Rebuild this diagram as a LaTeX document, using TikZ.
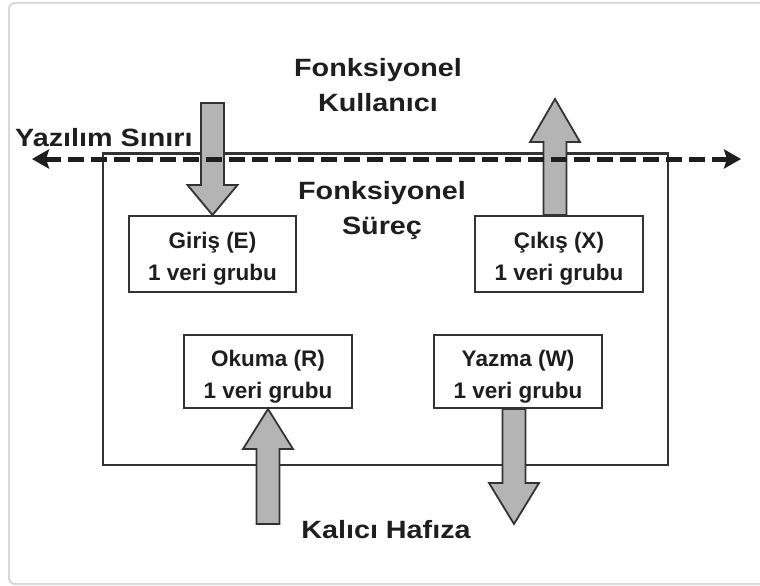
\documentclass[tikz,border=0pt]{standalone}
\usepackage{fontspec}
\setmainfont{Liberation Sans}
\newfontfamily\lblfont{Liberation Sans}[FakeStretch=1.15]
\usetikzlibrary{arrows.meta,calc}
\definecolor{ink}{HTML}{1E1E1E}
\definecolor{edgec}{HTML}{333333}
\definecolor{arrowfill}{HTML}{B4B4B4}
\definecolor{framegray}{HTML}{D9D9D9}
\newcommand{\blkarrow}[3]{%
  \draw[blk] let \p1=(#1), \p2=(#2), \n1={sign(\y2-\y1)} in
    ({\x2-11.5pt},\y1) -- ({\x2-11.5pt},{\y2-\n1*#3}) -- ({\x2-25pt},{\y2-\n1*#3})
    -- (\x2,\y2) -- ({\x2+25pt},{\y2-\n1*#3}) -- ({\x2+11.5pt},{\y2-\n1*#3})
    -- ({\x2+11.5pt},\y1) -- cycle;}
\begin{document}
\begin{tikzpicture}[x=1pt,y=-1pt,
  lbl/.style={font=\lblfont\bfseries\fontsize{25}{35}\selectfont, text=ink, align=center, inner sep=0pt},
  boxt/.style={font=\bfseries\fontsize{22.5}{32}\selectfont, text=ink, align=center, inner sep=0pt},
  opbox/.style={draw=edgec, line width=2pt, fill=white, inner sep=0pt},
  blk/.style={draw=edgec, fill=arrowfill, line width=1.8pt, line join=miter},
  boundary/.style={draw=ink, line width=5pt, dash pattern=on 16pt off 7pt,
    {Stealth[length=17pt,width=19pt,inset=3pt]}-{Stealth[length=17pt,width=19pt,inset=3pt]}},
  framebox/.style={draw=framegray, line width=2pt, rounded corners=6pt}]
\useasboundingbox (0,0) rectangle (760,586);
\fill[white] (0,0) rectangle (760,586);
% outer frame
\draw[framebox] (775,3) -- (9,3) -- (9,584) -- (775,584);
% functional process boundary
\node[draw=edgec, line width=2.5pt, minimum width=565pt, minimum height=311.5pt, inner sep=0pt] (fp) at (385.5,309.25) {};
% operation boxes
\node[opbox, minimum width=167pt, minimum height=76pt] (giris) at (212.5,254) {};
\node[opbox, minimum width=168pt, minimum height=76pt] (cikis) at (559,254) {};
\node[opbox, minimum width=168pt, minimum height=73pt] (okuma) at (268,371.5) {};
\node[opbox, minimum width=168.5pt, minimum height=73pt] (yazma) at (518,371.5) {};
\node[boxt] (girisT) at ([yshift=-5pt]giris.center) {Giriş (E)\\1 veri grubu};
\node[boxt] (cikisT) at ([yshift=-5pt]cikis.center) {Çıkış (X)\\1 veri grubu};
\node[boxt] (okumaT) at ([yshift=-5pt]okuma.center) {Okuma (R)\\1 veri grubu};
\node[boxt] (yazmaT) at ([yshift=-5pt]yazma.center) {Yazma (W)\\1 veri grubu};
% end points outside the process
\coordinate (userIn) at (211,103);
\coordinate (userOut) at (555,99);
\coordinate (storeIn) at (265,524);
\coordinate (storeOut) at (514,524);
% data movements
\blkarrow{userIn}{giris.north}{30pt}
\blkarrow{cikis.north}{userOut}{43pt}
\blkarrow{storeIn}{okuma.south}{40pt}
\blkarrow{yazma.south}{storeOut}{41pt}
% software boundary
\coordinate (bl) at (32,159);
\coordinate (br) at (741,159);
\draw[boundary] (bl) -- (br);
% labels
\node[lbl] (fu) at (378,85.5) {Fonksiyonel\\Kullanıcı};
\node[lbl] (fpL) at (382,211) {Fonksiyonel\\Süreç};
\node[lbl, anchor=base west] (ys) at (15,146) {Yazılım Sınırı};
\node[lbl, anchor=base] (kh) at (386,538) {Kalıcı Hafıza};
\end{tikzpicture}
\end{document}
